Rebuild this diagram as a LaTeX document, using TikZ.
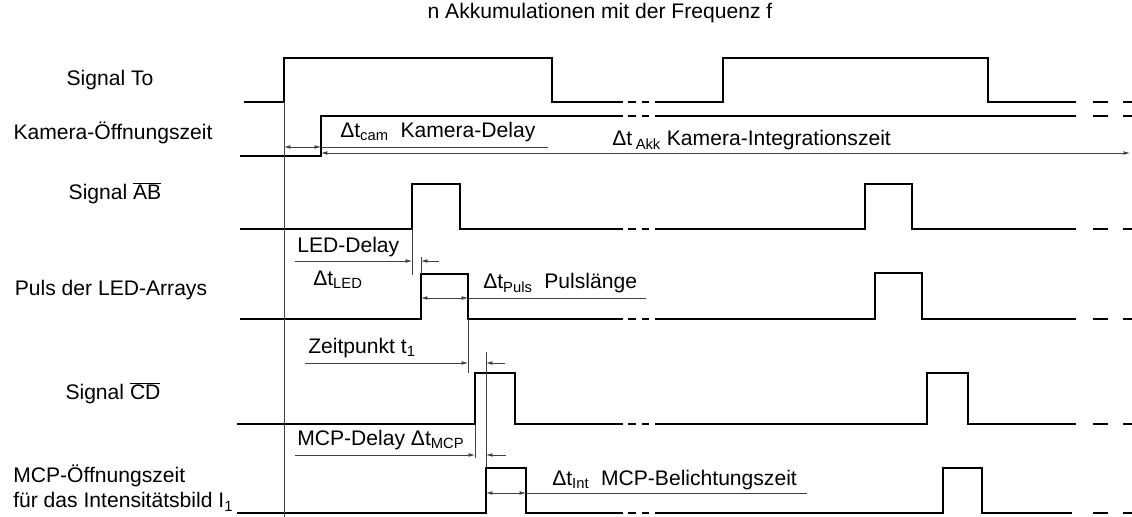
\documentclass[tikz,border=0pt]{standalone}
\usepackage{fontspec}
\setmainfont{Liberation Sans}
\usetikzlibrary{arrows.meta}

\begin{document}
\begin{tikzpicture}[x=0.025cm,y=-0.025cm,
    sig/.style={line width=1.3pt},
    brk/.style={line width=1.3pt,dash pattern=on 5.5pt off 4pt},
    dim/.style={line width=0.5pt,black!75},
    lbl/.style={inner sep=0pt,font=\fontsize{15}{18}\selectfont},
    >={Latex[length=4.5pt,width=2.6pt]}]
  \useasboundingbox (0,0) rectangle (1132,517);

  % titel und beschriftung links
  \node[lbl] (title) at (600,13) {n Akkumulationen mit der Frequenz f};
  \node[lbl] (sTo) at (110,80) {Signal To};
  \node[lbl] (sCam) at (113,133) {Kamera-Öffnungszeit};
  \node[lbl] (sAB) at (115,193) {Signal $\overline{\hbox{AB}}$};
  \node[lbl] (sLED) at (111,290) {Puls der LED-Arrays};
  \node[lbl] (sCD) at (113,393) {Signal $\overline{\hbox{CD}}$};
  \node[lbl,anchor=west,align=left] (sMCP) at (13,488)
    {MCP-Öffnungszeit\\für das Intensitätsbild I\textsubscript{1}};

  % signalverlaeufe
  \draw[sig] (244,102) -| (284,58) -| (552,102) -- (615,102);
  \draw[sig] (660,102) -| (723,58) -| (988,102) -- (1076,102);
  \draw[sig] (240,156) -| (321,116) -- (615,116);
  \draw[sig] (660,116) -- (1076,116);
  \draw[sig] (240,229) -| (412,184) -| (460,229) -- (615,229);
  \draw[sig] (660,229) -| (865,184) -| (912,229) -- (1076,229);
  \draw[sig] (240,319) -| (421,274) -| (468,319) -- (615,319);
  \draw[sig] (660,319) -| (875,273) -| (922,319) -- (1076,319);
  \draw[sig] (237,424) -| (475,373) -| (515,424) -- (615,424);
  \draw[sig] (660,424) -| (927,373) -| (968,424) -- (1076,424);
  \draw[sig] (237,513) -| (486,468) -| (526,513) -- (615,513);
  \draw[sig] (660,513) -| (943,468) -| (982,513) -- (1072,513);
  \foreach \y in {102,116,229,319,424,513} {
    \draw[brk] (615,\y) -- (660,\y);
    \draw[sig] (1093,\y) -- (1108,\y) (1123,\y) -- (1132,\y);
  }

  % hilfslinien und bemassung
  \draw[dim] (284,102) -- (284,517);
  \draw[dim,<->] (284,147) -- (321,147);
  \draw[dim] (321,147) -- (548,147);
  \draw[dim,<->] (321,153) -- (1130,153);
  \node[lbl,anchor=west] (dCam) at (340,132) {Δt\textsubscript{cam}\ \ Kamera-Delay};
  \node[lbl,anchor=west] (dAkk) at (612,140) {Δt\,\textsubscript{Akk} Kamera-Integrationszeit};

  \draw[dim] (412,229) -- (412,275);
  \draw[dim] (421,274) -- (421,257);
  \draw[dim,->] (295,261) -- (412,261);
  \draw[dim,->] (439,261) -- (421,261);
  \node[lbl,anchor=west] (dLED) at (297,247) {LED-Delay};
  \node[lbl,anchor=west] (tLED) at (313,280) {Δt\textsubscript{LED}};

  \draw[dim,<->] (421,298) -- (468,298);
  \draw[dim] (468,298) -- (646,298);
  \draw[dim] (468,319) -- (468,373);
  \node[lbl,anchor=west] (dPuls) at (483,283) {Δt\textsubscript{Puls}\ \ Pulslänge};

  \draw[dim,->] (305,363) -- (468,363);
  \draw[dim,->] (505,363) -- (486,363);
  \draw[dim] (486,352) -- (486,468);
  \node[lbl,anchor=west] (dZeit) at (308,348) {Zeitpunkt t\textsubscript{1}};

  \draw[dim] (475,424) -- (475,458);
  \draw[dim,->] (295,455) -- (475,455);
  \draw[dim,->] (506,455) -- (486,455);
  \node[lbl,anchor=west] (dMCP) at (297,440) {MCP-Delay Δt\textsubscript{MCP}};

  \draw[dim,<->] (486,493) -- (526,493);
  \draw[dim] (526,493) -- (807,493);
  \node[lbl,anchor=west] (dInt) at (552,480) {Δt\textsubscript{Int}\ \ MCP-Belichtungszeit};
\end{tikzpicture}
\end{document}
